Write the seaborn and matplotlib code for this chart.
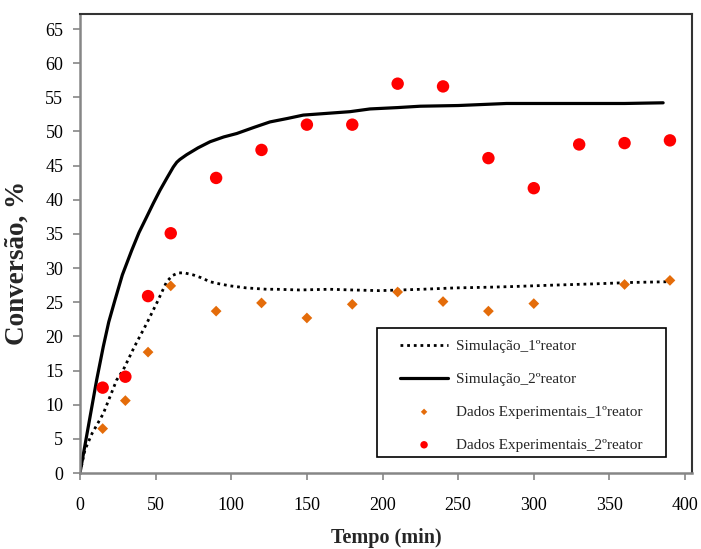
import matplotlib
matplotlib.use("Agg")
import matplotlib.pyplot as plt
from matplotlib.patches import Rectangle
import pandas as pd
import seaborn as sns

# Simulated conversion curves (time in min, conversion in %)
sim1_t = [0, 3.3, 8, 15.4, 24.2, 28.6, 36, 44.1, 51, 57.3, 61, 65, 69, 74.9, 80, 86, 92,
          99.2, 110, 123.4, 130, 145, 165, 180, 198, 226, 248, 270, 286, 312, 341, 365, 388]
sim1_y = [0, 3.4, 5.8, 8.7, 13.6, 15.1, 18.5, 21.9, 25.0, 28.0, 28.9, 29.3, 29.3, 29.0, 28.6,
          28.0, 27.7, 27.4, 27.1, 26.9, 26.9, 26.8, 26.9, 26.8, 26.7, 26.9, 27.1, 27.2, 27.3,
          27.5, 27.7, 27.9, 28.0]

sim2_t = [0, 5.5, 11, 15.4, 19, 23.1, 28, 34.2, 39, 44.1, 48.5, 52.9, 57.5, 61.7, 64, 66,
          70.5, 78, 86, 95, 103.6, 115, 125.6, 137, 147.6, 160, 178.5, 191.7, 210, 225, 250,
          282, 320, 360, 385.5]
sim2_y = [0, 6.8, 13.6, 18.5, 22.1, 25.3, 29.0, 32.6, 35.2, 37.5, 39.5, 41.4, 43.2, 44.8,
          45.5, 45.9, 46.6, 47.6, 48.5, 49.2, 49.7, 50.6, 51.4, 51.9, 52.4, 52.6, 52.9, 53.3,
          53.5, 53.7, 53.8, 54.1, 54.1, 54.1, 54.2]

# Experimental data
exp1_t = [15, 30, 45, 60, 90, 120, 150, 180, 210, 240, 270, 300, 360, 390]
exp1_y = [6.5, 10.6, 17.7, 27.4, 23.7, 24.9, 22.7, 24.7, 26.5, 25.1, 23.7, 24.8, 27.6, 28.2]

exp2_t = [15, 30, 45, 60, 90, 120, 150, 180, 210, 240, 270, 300, 330, 360, 390]
exp2_y = [12.5, 14.1, 25.9, 35.1, 43.2, 47.3, 51.0, 51.0, 57.0, 56.6, 46.1, 41.7, 48.1, 48.3, 48.7]

labels = ["Simulação_1ºreator", "Simulação_2ºreator",
          "Dados Experimentais_1ºreator", "Dados Experimentais_2ºreator"]
x_ticks = [0, 50, 100, 150, 200, 250, 300, 350, 400]
y_ticks = list(range(0, 70, 5))

sim1 = pd.DataFrame({"t": sim1_t, "y": sim1_y})
sim2 = pd.DataFrame({"t": sim2_t, "y": sim2_y})
exp1 = pd.DataFrame({"t": exp1_t, "y": exp1_y})
exp2 = pd.DataFrame({"t": exp2_t, "y": exp2_y})

sns.set_theme(style="white")
plt.rcParams["font.family"] = ["Liberation Serif", "DejaVu Serif"]

fig = plt.figure(figsize=(7.01, 5.49), dpi=100)
ax = fig.add_axes([0.1141, 0.1384, 0.8731, 0.8361])

sns.lineplot(data=sim1, x="t", y="y", ax=ax, color="black", lw=2.0, sort=False,
             estimator=None, label=labels[0])
ax.lines[-1].set_linestyle((0, (1, 1.4)))
ax.lines[-1].set_dash_capstyle("butt")
sns.lineplot(data=sim2, x="t", y="y", ax=ax, color="black", lw=2.3, sort=False,
             estimator=None, label=labels[1])
sns.scatterplot(data=exp1, x="t", y="y", ax=ax, marker="D", s=30, color="#E46C0A",
                edgecolor="none", label=labels[2], zorder=3)
sns.scatterplot(data=exp2, x="t", y="y", ax=ax, marker="o", s=80, color="#FF0000",
                edgecolor="none", label=labels[3], zorder=3)

ax.set_xlim(0, 404.6)
ax.set_ylim(0, 67.2)
ax.set_xticks(x_ticks)
ax.set_yticks(y_ticks)
ax.tick_params(axis="both", which="major", labelsize=13, direction="out",
               length=5, width=1.2, color="#868686", left=True, bottom=True)
ax.tick_params(axis="x", pad=12)
ax.tick_params(axis="y", pad=7)
for lbl in ax.get_xticklabels() + ax.get_yticklabels():
    lbl.set_color("black")

ax.set_xlabel("Tempo (min)", fontsize=14.5, fontweight="bold", labelpad=10)
ax.set_ylabel("Conversão, %", fontsize=19.5, fontweight="bold")
ax.yaxis.set_label_coords(-0.082, 0.4575)

for side in ("left", "bottom"):
    ax.spines[side].set_color("#868686")
    ax.spines[side].set_linewidth(1.8)
for side in ("top", "right"):
    ax.spines[side].set_color("#333333")
    ax.spines[side].set_linewidth(1.5)

handles, hl = ax.get_legend_handles_labels()
leg = ax.legend(handles, hl, loc="center", bbox_to_anchor=(0.7214, 0.1688),
                frameon=False, fontsize=11, labelspacing=1.26, handlelength=3.1,
                handletextpad=0.55, markerscale=0.6, borderpad=0.3)
ax.add_patch(Rectangle((0.4853, 0.0349), 0.4722, 0.281, transform=ax.transAxes,
                       facecolor="white", edgecolor="black", lw=1.2, zorder=4))
leg.set_zorder(5)

fig.savefig("out.png", dpi=100)
